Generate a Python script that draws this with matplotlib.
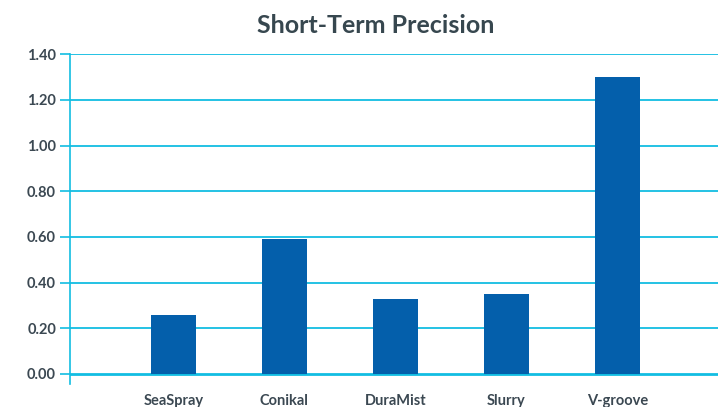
import matplotlib.pyplot as plt

# Short-term precision per nozzle type
categories = ["SeaSpray", "Conikal", "DuraMist", "Slurry", "V-groove"]
values = [0.26, 0.59, 0.33, 0.35, 1.30]
yticks = [0.0, 0.2, 0.4, 0.6, 0.8, 1.0, 1.2, 1.4]

plt.rcParams["font.family"] = ["Lato", "DejaVu Sans"]
text_color = "#3b4852"
grid_color = "#12bde2"
bar_color = "#045fab"

fig = plt.figure(figsize=(7.18, 4.07), dpi=100)
ax = fig.add_axes([0.0975, 0.0565, 0.905, 0.8105])

x = list(range(len(categories)))
ax.bar(x, values, width=0.4, color=bar_color, zorder=3)

ax.set_xlim(-0.93, 4.92)
ax.set_ylim(-0.044, 1.40)
ax.set_yticks(yticks)
ax.set_yticklabels([f"{v:.2f}" for v in yticks], fontsize=10.5,
                   fontweight="bold", color=text_color)
for v in yticks:
    ax.axhline(v, color=grid_color, lw=1.3 if v else 2, zorder=1)

ax.set_xticks(x)
ax.set_xticklabels(categories, fontsize=10.5, fontweight="bold", color=text_color)
ax.tick_params(axis="x", length=0, pad=7)
ax.tick_params(axis="y", length=7, color=grid_color, width=1.2, pad=3)

for s in ["top", "right", "bottom"]:
    ax.spines[s].set_visible(False)
ax.spines["left"].set_color(grid_color)
ax.spines["left"].set_linewidth(1.2)

fig.text(0.523, 0.938, "Short-Term Precision", ha="center", va="center",
         fontsize=18, fontweight="bold", color="#37474f")

fig.savefig("out.png", dpi=100)
